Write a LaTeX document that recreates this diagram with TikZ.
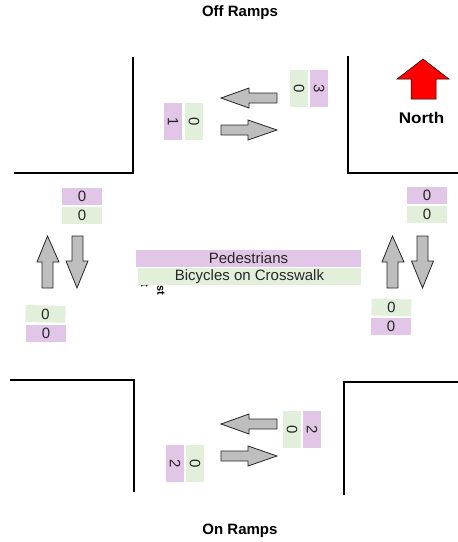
\documentclass[tikz,border=0pt]{standalone}
\usepackage{fontspec}
\setmainfont{Liberation Sans}
\definecolor{pur}{HTML}{E2C6E8}
\definecolor{grn}{HTML}{E2EFDA}
\definecolor{arr}{HTML}{BEBEBE}
\tikzset{
 x=1pt,y=-1pt,
 road/.style={draw=black,line width=1.8pt,line cap=butt},
 garrow/.style={draw=black!85,line width=0.8pt,fill=arr,line join=miter},
 pbox/.style={fill=pur,draw=none,inner sep=0pt,text=black!85,font=\fontsize{15}{17}\selectfont},
 gbox/.style={fill=grn,draw=none,inner sep=0pt,text=black!85,font=\fontsize{15}{17}\selectfont},
 hbx/.style={minimum width=40pt,minimum height=17pt,text height=10.5pt,text depth=0pt},
 vbx/.style={minimum width=18pt,minimum height=37pt},
 rot/.style={rotate=-90},
 title/.style={font=\bfseries\fontsize{15}{17}\selectfont,inner sep=0pt}
}
\begin{document}
\begin{tikzpicture}
\useasboundingbox (0,0) rectangle (458,542);
% roads
\draw[road] (133,57) -- (133,173) -- (14,173);
\draw[road] (348,56) -- (348,173) -- (458,173);
\draw[road] (10,380) -- (134,380) -- (134,492);
\draw[road] (344,495) -- (344,382) -- (458,382);
% titles
\node[title] (off) at (240,13) {Off Ramps};
\node[title] (on) at (240,531) {On Ramps};
\node[title,font=\bfseries\fontsize{15.5}{18}\selectfont,xscale=1.1] (north) at (421.5,118) {North};
% north arrow
\draw[draw=black,line width=0.5pt,fill=red] (423,59) -- (449,79) -- (436,79) -- (436,99) -- (411,99) -- (411,79) -- (397,79) -- cycle;
% horizontal arrows, top
\draw[garrow] (221,98) -- (249,88) -- (249,93) -- (277,93) -- (277,103) -- (249,103) -- (249,108) -- cycle;
\draw[garrow] (277,130) -- (248,120) -- (248,125) -- (221,125) -- (221,135) -- (248,135) -- (248,140) -- cycle;
% horizontal arrows, bottom
\draw[garrow] (221,424) -- (249,414) -- (249,419) -- (277,419) -- (277,429) -- (249,429) -- (249,434) -- cycle;
\draw[garrow] (277,456) -- (248,446) -- (248,451) -- (221,451) -- (221,461) -- (248,461) -- (248,466) -- cycle;
% vertical arrows, left
\draw[garrow] (47.5,236) -- (59,262) -- (53,262) -- (53,288) -- (42,288) -- (42,262) -- (37,262) -- cycle;
\draw[garrow] (77,288) -- (88,261) -- (83,261) -- (83,236) -- (72,236) -- (72,261) -- (66,261) -- cycle;
% vertical arrows, right
\draw[garrow] (392.5,236) -- (404,262) -- (398,262) -- (398,288) -- (387,288) -- (387,262) -- (382,262) -- cycle;
\draw[garrow] (422.5,288) -- (433.5,261) -- (428,261) -- (428,236) -- (417,236) -- (417,261) -- (411.5,261) -- cycle;
% clipped labels under the crosswalk box
\node[rot,inner sep=0pt,font=\bfseries\fontsize{11}{13}\selectfont,anchor=east] (frag1) at (145,287.5) {t};
\node[rot,inner sep=0pt,font=\bfseries\fontsize{11}{13}\selectfont,anchor=west] (frag2) at (161,285) {st};
% crosswalk
\node[pbox,minimum width=225pt,minimum height=17pt] (ped) at (248.5,258.5) {Pedestrians};
\node[gbox,minimum width=223pt,minimum height=17pt] (bic) at (249.5,276.5) {Bicycles on Crosswalk};
% top counts
\node[pbox,vbx] (a1) at (173,121.5) {\rotatebox{-90}{1}};
\node[gbox,vbx] (a2) at (194,121.5) {\rotatebox{-90}{0}};
\node[gbox,vbx] (b1) at (299,88.5) {\rotatebox{-90}{0}};
\node[pbox,vbx] (b2) at (319,88.5) {\rotatebox{-90}{3}};
% bottom counts
\node[gbox,vbx] (c1) at (292,429.5) {\rotatebox{-90}{0}};
\node[pbox,vbx] (c2) at (312,429.5) {\rotatebox{-90}{2}};
\node[pbox,vbx] (d1) at (175,463.5) {\rotatebox{-90}{2}};
\node[gbox,vbx] (d2) at (195,463.5) {\rotatebox{-90}{0}};
% left counts
\node[pbox,hbx] (e1) at (82,196.5) {0};
\node[gbox,hbx] (e2) at (82,215.5) {0};
\node[gbox,hbx,rotate=-1.5] (f1) at (45.5,314) {0};
\node[pbox,hbx] (f2) at (46,333.5) {0};
% right counts
\node[pbox,hbx] (g1) at (427,195.5) {0};
\node[gbox,hbx] (g2) at (427,214.5) {0};
\node[gbox,hbx,rotate=-1.5] (h1) at (391.5,307.5) {0};
\node[pbox,hbx] (h2) at (391,326.5) {0};
\end{tikzpicture}
\end{document}
